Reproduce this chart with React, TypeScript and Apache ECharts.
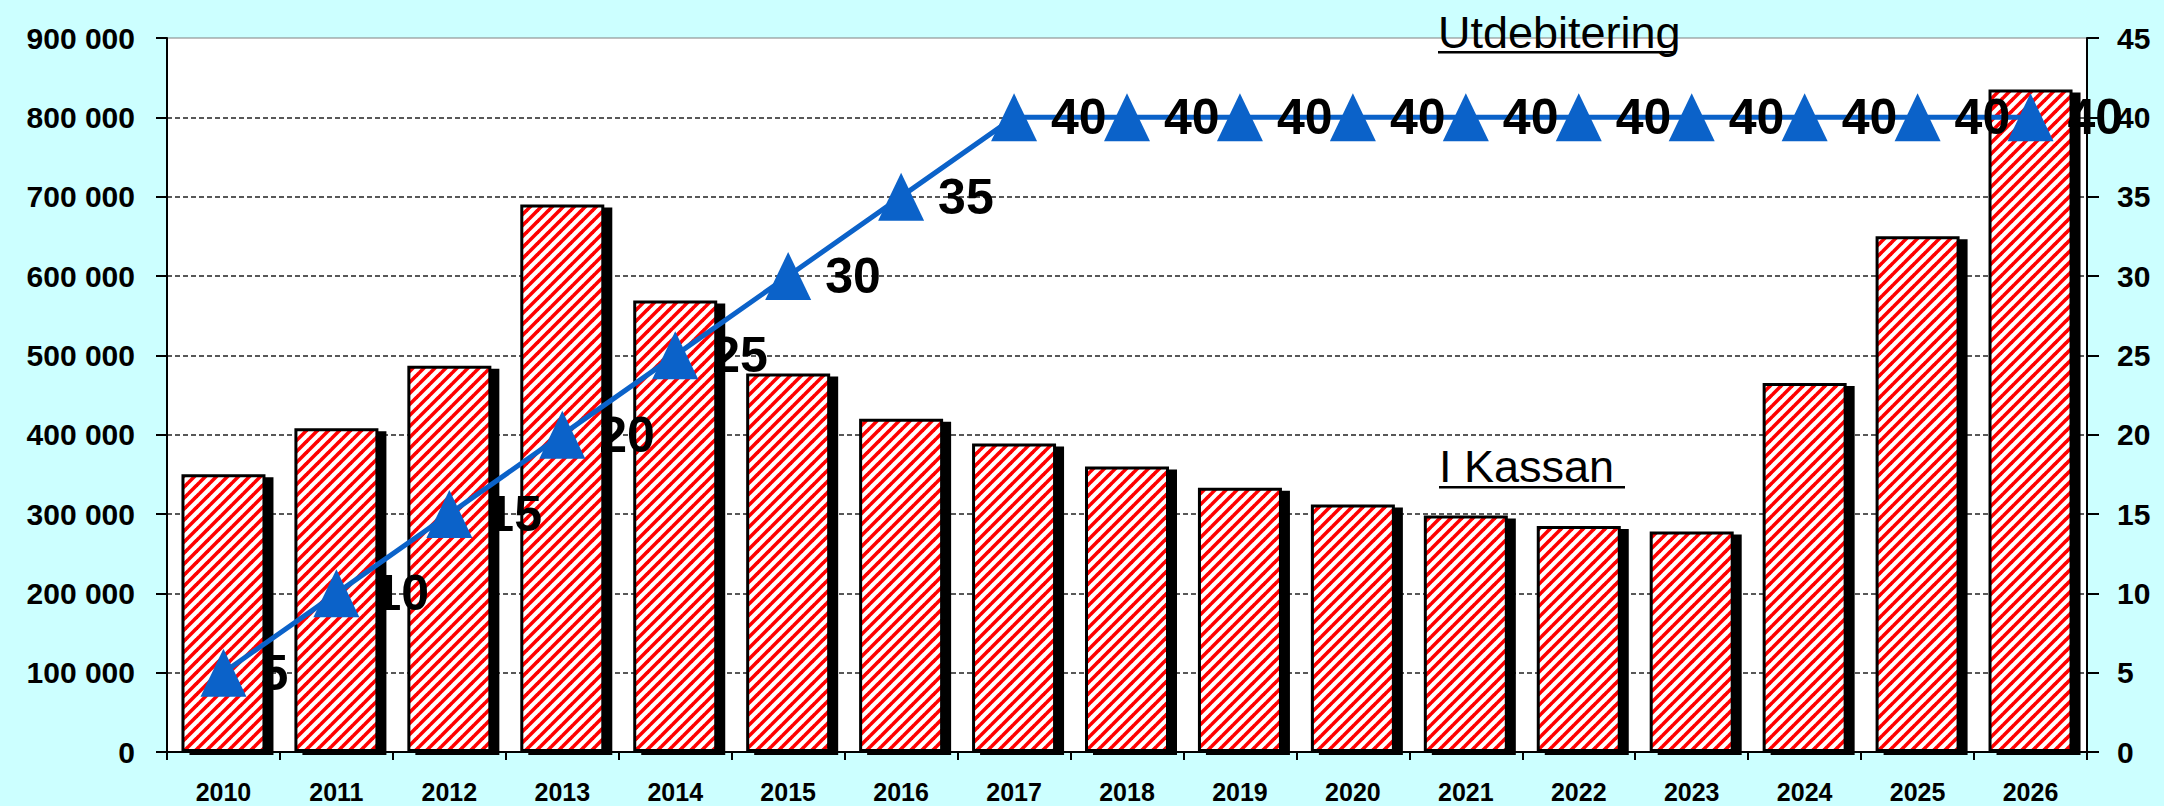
import React, { useEffect, useRef } from "react";
import * as echarts from "echarts";

const years = ["2010", "2011", "2012", "2013", "2014", "2015", "2016", "2017", "2018", "2019", "2020", "2021", "2022", "2023", "2024", "2025", "2026"];
const kassan = [350000, 408000, 487000, 690000, 569000, 477000, 420000, 389000, 360000, 333000, 312000, 298000, 285000, 278000, 465000, 650000, 835000];
const utdebitering = [5, 10, 15, 20, 25, 30, 35, 40, 40, 40, 40, 40, 40, 40, 40, 40, 40];
const titleUtdebitering = "Utdebitering";
const titleKassan = "I Kassan";

const FONT = 'Arial, "Liberation Sans", sans-serif';

function fmtThousands(v: number): string {
  return String(v).replace(/\B(?=(\d{3})+(?!\d))/g, " ");
}

function makeHatch(s: number): string {
  const c = document.createElement("canvas");
  c.width = s;
  c.height = s;
  const ctx = c.getContext("2d");
  if (ctx) {
    ctx.fillStyle = "#ffffff";
    ctx.fillRect(0, 0, s, s);
    ctx.strokeStyle = "#ff0000";
    ctx.lineWidth = 3.6;
    for (let k = -1; k <= 1; k++) {
      ctx.beginPath();
      ctx.moveTo(k * s - 1, s + 1);
      ctx.lineTo(k * s + s + 1, -1);
      ctx.stroke();
    }
  }
  return c.toDataURL();
}

export default function App() {
  const ref = useRef<HTMLDivElement>(null);
  useEffect(() => {
    document.body.style.margin = "0";
    if (!ref.current) return;
    const chart = echarts.init(ref.current, undefined, { renderer: "svg" });
    const tile = 11;
    const hatch = makeHatch(tile);
    chart.setOption({
      animation: false,
      backgroundColor: "#ccffff",
      grid: {
        left: 167,
        right: 77,
        top: 38,
        bottom: 54,
        show: true,
        backgroundColor: "#ffffff",
        borderColor: "#808080",
        borderWidth: 1,
        outerBoundsMode: "none",
      },
      xAxis: {
        type: "category",
        data: years,
        axisLine: { lineStyle: { color: "#000", width: 2 } },
        axisTick: { show: true, length: 8, lineStyle: { color: "#000", width: 2 } },
        axisLabel: { color: "#000", fontFamily: FONT, fontWeight: "bold", fontSize: 25, margin: 27 },
      },
      yAxis: [
        {
          type: "value",
          min: 0,
          max: 900000,
          interval: 100000,
          axisLine: { show: true, lineStyle: { color: "#000", width: 2 } },
          axisTick: { show: true, length: 11, lineStyle: { color: "#000", width: 2 } },
          axisLabel: {
            color: "#000",
            fontFamily: FONT,
            fontWeight: "bold",
            fontSize: 30,
            margin: 32,
            formatter: (v: number) => fmtThousands(v),
          },
          splitLine: {
            show: true,
            showMinLine: false,
            showMaxLine: false,
            lineStyle: { color: "#222", type: [5, 3], width: 1.5 },
          },
        },
        {
          type: "value",
          min: 0,
          max: 45,
          interval: 5,
          position: "right",
          axisLine: { show: true, lineStyle: { color: "#000", width: 2 } },
          axisTick: { show: true, length: 12, lineStyle: { color: "#000", width: 2 } },
          axisLabel: { color: "#000", fontFamily: FONT, fontWeight: "bold", fontSize: 30, margin: 30 },
          splitLine: { show: false },
        },
      ],
      series: [
        {
          type: "bar",
          data: kassan,
          barWidth: 84,
          yAxisIndex: 0,
          itemStyle: {
            color: { image: hatch, repeat: "repeat", imageWidth: tile, imageHeight: tile },
            borderColor: "#000",
            borderWidth: 3,
            shadowColor: "#000",
            shadowBlur: 0,
            shadowOffsetX: 8,
            shadowOffsetY: 3,
          },
        },
        {
          type: "line",
          data: utdebitering,
          yAxisIndex: 1,
          symbol: "triangle",
          symbolSize: [46, 48],
          lineStyle: { color: "#0b62c9", width: 5 },
          itemStyle: { color: "#0b62c9" },
          label: {
            show: true,
            position: "right",
            distance: 14,
            color: "#000",
            fontFamily: FONT,
            fontWeight: "bold",
            fontSize: 50,
          },
        },
      ],
      graphic: [
        {
          type: "text",
          x: 1438,
          y: 32,
          style: { text: titleUtdebitering, font: `45px ${FONT}`, fill: "#000", textAlign: "left", textVerticalAlign: "middle" },
        },
        {
          type: "rect",
          shape: { x: 1438, y: 51, width: 238, height: 2.5 },
          style: { fill: "#000" },
        },
        {
          type: "text",
          x: 1439,
          y: 466,
          style: { text: titleKassan, font: `45px ${FONT}`, fill: "#000", textAlign: "left", textVerticalAlign: "middle" },
        },
        {
          type: "rect",
          shape: { x: 1439, y: 486, width: 186, height: 2.5 },
          style: { fill: "#000" },
        },
      ],
    });
    return () => chart.dispose();
  }, []);
  return <div ref={ref} style={{ width: 2164, height: 806, background: "#ccffff" }} />;
}
